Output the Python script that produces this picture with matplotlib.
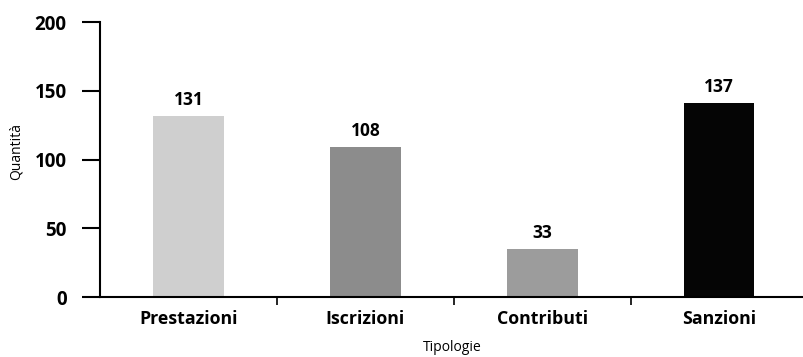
"""Bar chart: quantità per tipologia."""

import matplotlib.pyplot as plt
import numpy as np

categories = ["Prestazioni", "Iscrizioni", "Contributi", "Sanzioni"]
value_labels = ["131", "108", "33", "137"]
# bar tops as drawn in the original (the Sanzioni bar is printed a bit taller than its label)
bar_heights = [132, 109, 35, 141]
bar_colors = ["#cfcfcf", "#8c8c8c", "#9c9c9c", "#050505"]
y_ticks = [0, 50, 100, 150, 200]

plt.rcParams["font.family"] = ["Open Sans", "DejaVu Sans"]

fig = plt.figure(figsize=(8.04, 3.57), dpi=100)
ax = fig.add_axes([0.1244, 0.168, 0.8756, 0.770])

x = np.arange(len(categories))
ax.bar(x, bar_heights, width=0.4, color=bar_colors, zorder=2)
for xi, h, lab in zip(x, bar_heights, value_labels):
    ax.text(xi, h + 5, lab, ha="center", va="bottom", fontsize=12.5,
            fontweight="bold")

ax.set_xlim(-0.5, 3.48)
ax.set_ylim(0, 200)
ax.set_yticks(y_ticks)
ax.set_yticklabels([str(v) for v in y_ticks], fontsize=13.5, fontweight="bold")
ax.tick_params(axis="y", length=13, width=1.5, pad=11)

# ticks sit between categories, labels under the bars
ax.set_xticks(x[:-1] + 0.5)
ax.set_xticklabels([])
ax.set_xticks(x, minor=True)
ax.set_xticklabels(categories, minor=True, fontsize=12.8, fontweight="bold")
ax.tick_params(axis="x", which="major", length=6, width=1.2)
ax.tick_params(axis="x", which="minor", length=0, pad=9)

for side in ("top", "right"):
    ax.spines[side].set_visible(False)
ax.spines["left"].set_linewidth(1.5)
ax.spines["bottom"].set_linewidth(1.5)

ax.set_ylabel("Quantità", fontsize=10)
ax.yaxis.set_label_coords(-0.108, 0.53)
ax.set_xlabel("Tipologie", fontsize=10, labelpad=9)

fig.savefig("out.png", dpi=100)
plt.close(fig)
